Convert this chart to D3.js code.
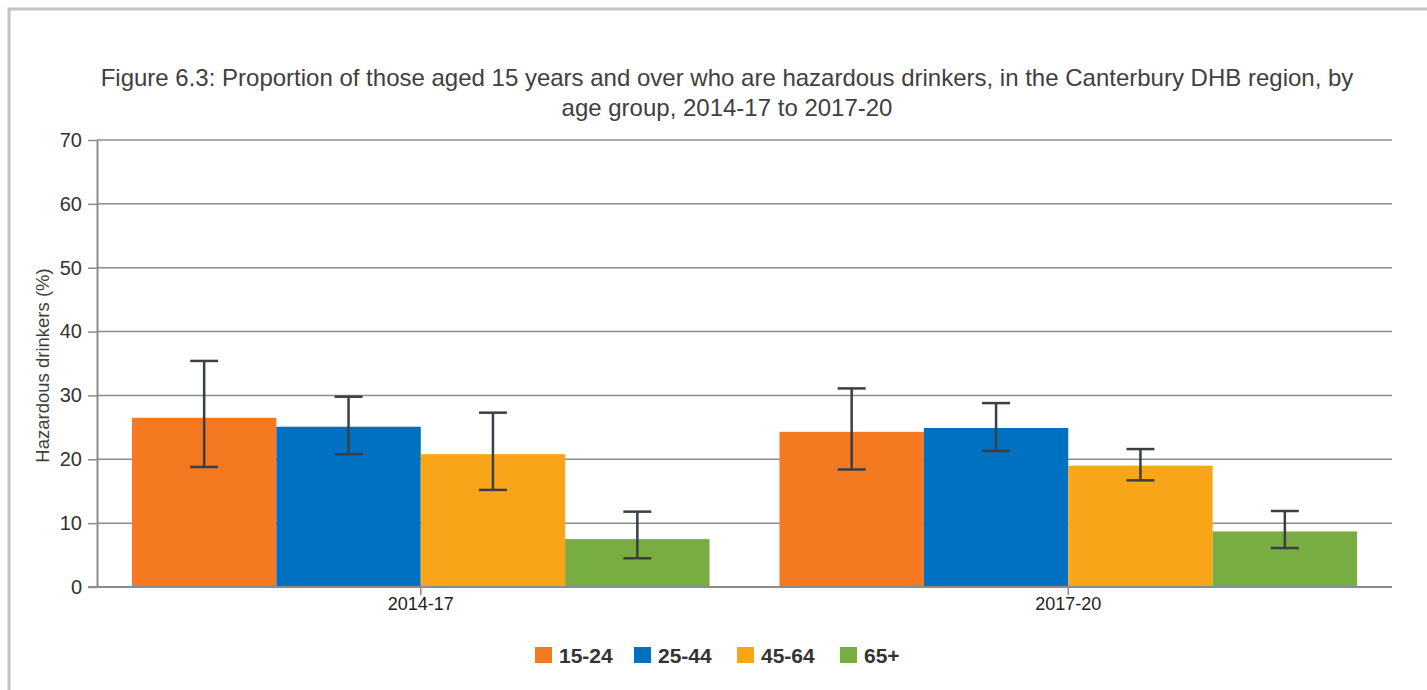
<!DOCTYPE html>
<html>
<head>
<meta charset="utf-8">
<script src="https://cdn.jsdelivr.net/npm/d3@7"></script>
<style>
  body { margin: 0; background: #fff; }
  svg { display: block; font-family: "Liberation Sans", Arial, sans-serif; }
</style>
</head>
<body>
<div id="chart"></div>
<script>
// data
var periods = ['2014-17', '2017-20'];
var ageGroups = ['15-24', '25-44', '45-64', '65+'];
var colours = ['#f47920', '#0070c0', '#f9a51a', '#77ad41'];
var value2014 = [26.5, 25.1, 20.8, 7.5];
var value2017 = [24.3, 24.9, 19.0, 8.7];
var lower2014 = [18.8, 20.8, 15.2, 4.5];
var upper2014 = [35.4, 29.8, 27.3, 11.8];
var lower2017 = [18.4, 21.3, 16.7, 6.1];
var upper2017 = [31.1, 28.8, 21.6, 11.9];
var yTicks = [0, 10, 20, 30, 40, 50, 60, 70];

var rows = [
  {period: periods[0], values: value2014, lo: lower2014, hi: upper2014},
  {period: periods[1], values: value2017, lo: lower2017, hi: upper2017}
];

var W = 1427, H = 690;
var m = {top: 140, right: 35, bottom: 103, left: 97};

var svg = d3.select('#chart').append('svg').attr('width', W).attr('height', H);

// outer frame (only top and left visible)
svg.append('path')
  .attr('d', 'M9,' + H + 'V9H' + W)
  .attr('fill', 'none').attr('stroke', '#c3c3c3').attr('stroke-width', 3);

var title = svg.append('text')
  .attr('text-anchor', 'middle').attr('fill', '#404040')
  .style('font-size', '24px');
title.append('tspan').attr('x', 727).attr('y', 86)
  .text('Figure 6.3: Proportion of those aged 15 years and over who are hazardous drinkers, in the Canterbury DHB region, by');
title.append('tspan').attr('x', 727).attr('y', 116)
  .text('age group, 2014-17 to 2017-20');

var x0 = d3.scaleBand().domain(periods).range([m.left, W - m.right])
  .paddingInner(0.108).paddingOuter(0.054);
var x1 = d3.scaleBand().domain(ageGroups).range([0, x0.bandwidth()]);
var y = d3.scaleLinear().domain([0, 70]).range([H - m.bottom, m.top]);

// gridlines + y axis
var yAxis = svg.append('g')
  .attr('transform', 'translate(' + m.left + ',0)')
  .call(d3.axisLeft(y).tickValues(yTicks).tickSize(9).tickPadding(6)
    .tickSizeOuter(0));
yAxis.select('.domain').attr('stroke', '#8c8c8c').attr('stroke-width', 2);
yAxis.selectAll('.tick line').attr('stroke', '#8c8c8c').attr('stroke-width', 1.5);
yAxis.selectAll('.tick text').attr('fill', '#333').style('font-size', '20px');

svg.append('g').selectAll('line').data(yTicks).enter().append('line')
  .attr('x1', m.left).attr('x2', W - m.right)
  .attr('y1', function(d){ return y(d); }).attr('y2', function(d){ return y(d); })
  .attr('stroke', '#8c8c8c').attr('stroke-width', 1.5);

svg.append('text')
  .attr('transform', 'translate(49,' + ((m.top + H - m.bottom) / 2 + 2) + ') rotate(-90)')
  .attr('text-anchor', 'middle').attr('fill', '#404040')
  .style('font-size', '18.5px')
  .text('Hazardous drinkers (%)');

// bars
var groups = svg.append('g').selectAll('g').data(rows).enter().append('g')
  .attr('transform', function(d){ return 'translate(' + x0(d.period) + ',0)'; });

groups.selectAll('rect').data(function(d){
    return d.values.map(function(v, i){ return {k: ageGroups[i], v: v, c: colours[i]}; });
  }).enter().append('rect')
  .attr('x', function(d){ return x1(d.k); })
  .attr('width', x1.bandwidth())
  .attr('y', function(d){ return y(d.v); })
  .attr('height', function(d){ return y(0) - y(d.v); })
  .attr('fill', function(d){ return d.c; });

// x axis
var xAxis = svg.append('g')
  .attr('transform', 'translate(0,' + y(0) + ')')
  .call(d3.axisBottom(x0).tickSize(8).tickPadding(2).tickSizeOuter(0));
xAxis.select('.domain').remove();
xAxis.selectAll('.tick line').attr('stroke', '#8c8c8c').attr('stroke-width', 1.5);
xAxis.selectAll('.tick text').attr('fill', '#222').style('font-size', '18px');
svg.append('line')
  .attr('x1', 88).attr('x2', W - m.right)
  .attr('y1', y(0)).attr('y2', y(0))
  .attr('stroke', '#8c8c8c').attr('stroke-width', 2);

// error bars
var capW = 28;
var errs = groups.selectAll('g.err').data(function(d){
    return d.values.map(function(v, i){ return {k: ageGroups[i], lo: d.lo[i], hi: d.hi[i]}; });
  }).enter().append('g').attr('class', 'err')
  .attr('stroke', '#3b3f45').attr('stroke-width', 2.5);
errs.append('line')
  .attr('x1', function(d){ return x1(d.k) + x1.bandwidth() / 2; })
  .attr('x2', function(d){ return x1(d.k) + x1.bandwidth() / 2; })
  .attr('y1', function(d){ return y(d.lo); })
  .attr('y2', function(d){ return y(d.hi); });
['lo', 'hi'].forEach(function(end){
  errs.append('line')
    .attr('x1', function(d){ return x1(d.k) + x1.bandwidth() / 2 - capW / 2; })
    .attr('x2', function(d){ return x1(d.k) + x1.bandwidth() / 2 + capW / 2; })
    .attr('y1', function(d){ return y(d[end]); })
    .attr('y2', function(d){ return y(d[end]); });
});

// legend
var legendX = [535, 634, 737, 840];
var legend = svg.append('g').selectAll('g').data(ageGroups).enter().append('g')
  .attr('transform', function(d, i){ return 'translate(' + legendX[i] + ',647)'; });
legend.append('rect').attr('width', 17).attr('height', 16)
  .attr('fill', function(d, i){ return colours[i]; });
legend.append('text').attr('x', 24).attr('y', 16)
  .attr('fill', '#333').style('font-size', '21px').style('font-weight', 'bold')
  .text(function(d){ return d; });
</script>
</body>
</html>
